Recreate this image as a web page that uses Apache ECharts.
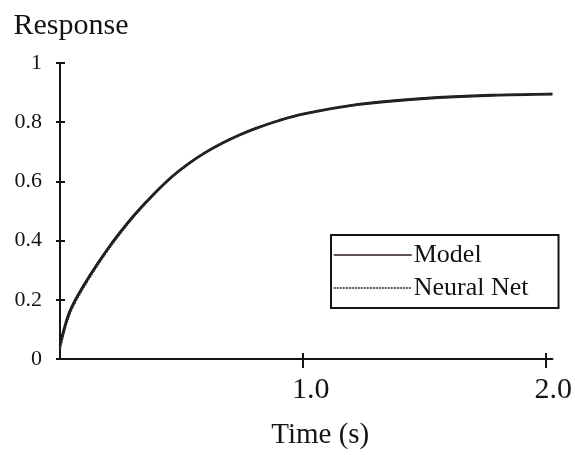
<!DOCTYPE html>
<html>
<head>
<meta charset="utf-8">
<script src="https://cdn.jsdelivr.net/npm/echarts@6/dist/echarts.min.js"></script>
<style>html,body{margin:0;padding:0;background:#fff;}#c{width:575px;height:455px;}</style>
</head>
<body>
<div id="c"></div>
<script>
const time = [0, 0.02, 0.04, 0.07, 0.125, 0.195, 0.25, 0.31, 0.39, 0.46, 0.53, 0.6, 0.67, 0.74, 0.81, 0.9, 1.0, 1.23, 1.5, 1.78, 2.03];
const model = [0.048, 0.11, 0.16, 0.21, 0.285, 0.37, 0.43, 0.49, 0.56, 0.615, 0.66, 0.698, 0.73, 0.757, 0.78, 0.805, 0.827, 0.86, 0.88, 0.891, 0.895];
const neuralNet = [0.034, 0.1, 0.152, 0.203, 0.279, 0.365, 0.426, 0.487, 0.558, 0.614, 0.659, 0.698, 0.73, 0.757, 0.78, 0.805, 0.827, 0.86, 0.88, 0.891, 0.896];
const yTicks = [0, 0.2, 0.4, 0.6, 0.8, 1];
const xTicks = [1, 2];
const seriesNames = ['Model', 'Neural Net'];

const font = 'Liberation Serif, Times New Roman, serif';
const ink = '#141414';
const pairs = (xs, ys) => xs.map((x, i) => [x, ys[i]]);

const chart = echarts.init(document.getElementById('c'));
chart.setOption({
  animation: false,
  color: ['#1c1614', '#2a2a2a'],
  textStyle: { fontFamily: font, color: ink },
  grid: { left: 60, top: 63, right: 22, bottom: 93 },
  legend: {
    orient: 'vertical',
    left: 331, top: 235,
    padding: [7, 30, 7, 2],
    itemWidth: 78, itemHeight: 12, itemGap: 7,
    borderColor: ink, borderWidth: 2, borderRadius: 0,
    textStyle: { fontFamily: font, fontSize: 26, color: ink, padding: [0, 0, 0, -3] },
    data: [
      { name: seriesNames[0], itemStyle: { opacity: 0 }, lineStyle: { color: '#2b1d18', width: 1.5, type: 'solid' } },
      { name: seriesNames[1], itemStyle: { opacity: 0 }, lineStyle: { color: '#222', width: 1.5, type: [2, 1] } }
    ]
  },
  xAxis: [
    {
      type: 'value', min: 0, max: 2.03, position: 'bottom',
      name: 'Time (s)', nameLocation: 'middle', nameGap: 62,
      nameTextStyle: { fontFamily: font, fontSize: 29, color: ink, padding: [0, 0, 0, 28] },
      splitLine: { show: false },
      axisLine: { lineStyle: { color: ink, width: 2 } },
      axisTick: { show: true, customValues: xTicks, length: 9, lineStyle: { color: ink, width: 2 } },
      axisLabel: { customValues: xTicks, formatter: v => v.toFixed(1), fontFamily: font, fontSize: 30, color: ink, margin: 16, padding: [0, 0, 0, 16] }
    },
    {
      type: 'value', min: 0, max: 2.03, position: 'bottom',
      splitLine: { show: false }, axisLine: { show: false }, axisLabel: { show: false },
      axisTick: { show: true, inside: true, customValues: xTicks, length: 6, lineStyle: { color: ink, width: 2 } }
    }
  ],
  yAxis: [
    {
      type: 'value', min: 0, max: 1, interval: 0.2, position: 'left',
      name: 'Response', nameLocation: 'end', nameGap: 22,
      nameTextStyle: { fontFamily: font, fontSize: 30, color: ink, align: 'center', padding: [0, 0, 0, 22] },
      splitLine: { show: false },
      axisLine: { lineStyle: { color: ink, width: 2 } },
      axisTick: { show: true, customValues: yTicks, length: 4, lineStyle: { color: ink, width: 2 } },
      axisLabel: { customValues: yTicks, fontFamily: font, fontSize: 22, color: ink, margin: 18 }
    },
    {
      type: 'value', min: 0, max: 1, interval: 0.2, position: 'left',
      splitLine: { show: false }, axisLine: { show: false }, axisLabel: { show: false },
      axisTick: { show: true, inside: true, customValues: yTicks, length: 5, lineStyle: { color: ink, width: 2 } }
    }
  ],
  series: [
    {
      name: seriesNames[0], type: 'line', xAxisIndex: 0, yAxisIndex: 0,
      data: pairs(time, model), smooth: 0.35, symbol: 'none',
      lineStyle: { color: '#1c1614', width: 2.8 }
    },
    {
      name: seriesNames[1], type: 'line', xAxisIndex: 0, yAxisIndex: 0,
      data: pairs(time, neuralNet), smooth: 0.35, symbol: 'none',
      lineStyle: { color: '#2a2a2a', width: 2, type: [2, 1] }
    }
  ]
});
</script>
</body>
</html>
